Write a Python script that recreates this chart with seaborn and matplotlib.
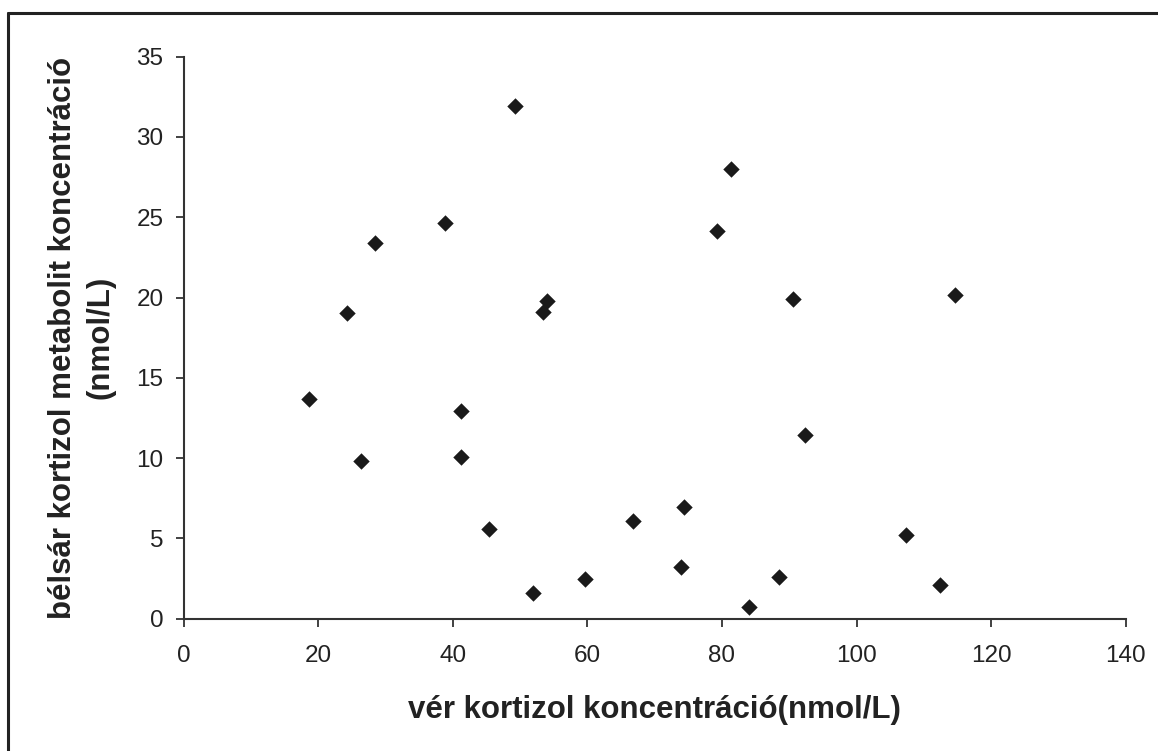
import matplotlib
matplotlib.use("Agg")
import matplotlib.pyplot as plt
import seaborn as sns
import pandas as pd
from matplotlib.lines import Line2D

ver_kortizol = [18.7, 24.3, 26.4, 28.5, 38.9, 41.2, 41.2, 45.4, 49.2, 53.4,
                54.0, 51.9, 59.6, 66.8, 73.9, 74.4, 79.2, 81.3, 84.0, 88.5,
                90.5, 92.3, 107.4, 112.4, 114.6]
belsar_metabolit = [13.7, 19.05, 9.85, 23.4, 24.65, 12.95, 10.1, 5.6, 31.9, 19.1,
                    19.8, 1.6, 2.5, 6.1, 3.2, 6.95, 24.15, 28.0, 0.7, 2.6,
                    19.9, 11.45, 5.2, 2.1, 20.15]

x_label = "vér kortizol koncentráció(nmol/L)"
y_label = "bélsár kortizol metabolit koncentráció\n(nmol/L)"
x_ticks = [0, 20, 40, 60, 80, 100, 120, 140]
y_ticks = [0, 5, 10, 15, 20, 25, 30, 35]

df = pd.DataFrame({"x": ver_kortizol, "y": belsar_metabolit})

sns.set_theme(style="white")
plt.rcParams['font.family'] = ['Liberation Sans', 'DejaVu Sans']

fig = plt.figure(figsize=(11.58, 7.51), dpi=100)
ax = fig.add_axes([0.1586, 0.1762, 0.9721 - 0.1586, 0.9245 - 0.1762])

sns.scatterplot(data=df, x="x", y="y", ax=ax, marker="D", s=70,
                color="#1a1a1a", linewidth=0, legend=False)

ax.set_xlim(0, 140)
ax.set_ylim(0, 35)
ax.set_xticks(x_ticks)
ax.set_yticks(y_ticks)
ax.tick_params(axis="both", direction="out", length=6, width=1.3,
               color="#333333", labelsize=17.5, labelcolor="#222222",
               bottom=True, left=True)
ax.tick_params(axis="x", pad=13)
ax.tick_params(axis="y", pad=8.5)
for side in ["top", "right"]:
    ax.spines[side].set_visible(False)
for side in ["left", "bottom"]:
    ax.spines[side].set_color("#333333")
    ax.spines[side].set_linewidth(1.5)

ax.set_xlabel(x_label, fontsize=22.5, fontweight="bold", color="#222222", labelpad=20)
ax.set_ylabel(y_label, fontsize=22.5, fontweight="bold", color="#222222", labelpad=15,
              linespacing=1.35)

# figure frame (top and left edges visible)
fig.add_artist(Line2D([8 / 1158, 1.0], [1 - 13 / 751, 1 - 13 / 751],
                      transform=fig.transFigure, color="#222222", linewidth=2.2))
fig.add_artist(Line2D([8 / 1158, 8 / 1158], [0.0, 1 - 13 / 751],
                      transform=fig.transFigure, color="#222222", linewidth=2.2))

fig.savefig("out.png", dpi=100, facecolor="white")
